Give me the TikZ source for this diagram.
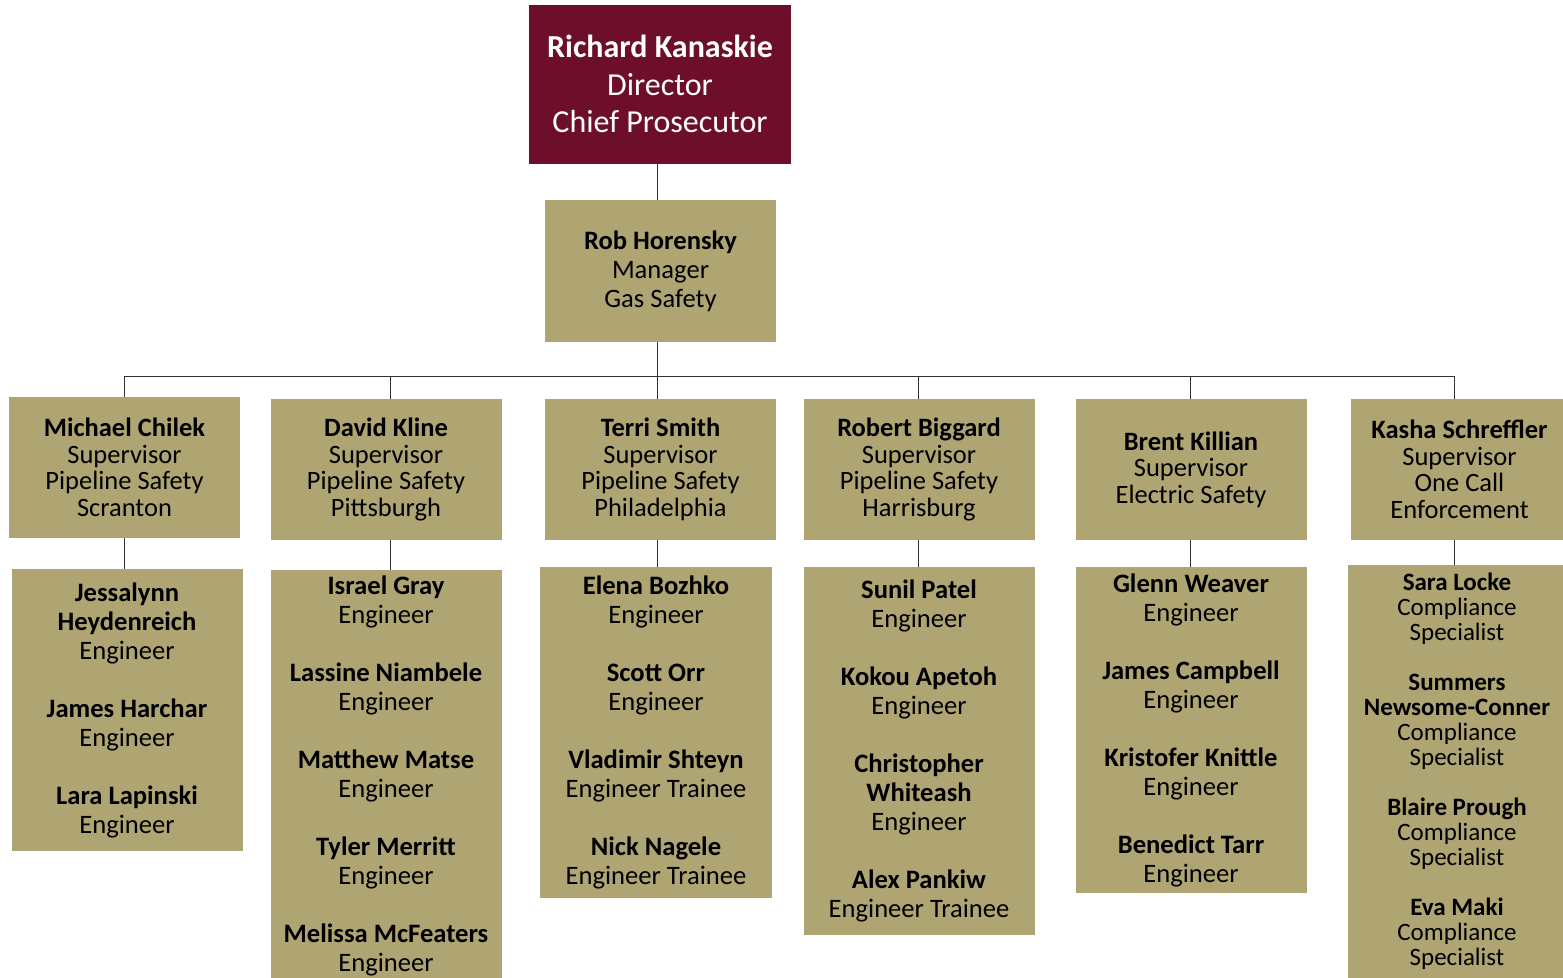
\documentclass[tikz,border=0pt]{standalone}
\usepackage{fontspec}
\setmainfont{Carlito}
\usepackage{tikz}

\definecolor{chiefred}{RGB}{109,15,43}
\definecolor{unittan}{RGB}{175,165,115}

\newcommand{\nm}[1]{\textbf{#1}}

\begin{document}
\begin{tikzpicture}[x=1pt, y=-1pt,
		every node/.style={align=center, inner sep=0pt},
		chief/.style={fill=chiefred, text=white, minimum width=262pt, minimum height=159pt, font=\fontsize{32}{37.5}\selectfont},
		unit/.style={fill=unittan, minimum width=231pt, font=\fontsize{26.6}{29}\selectfont},
		super/.style={unit, minimum height=141pt, font=\fontsize{26.5}{26.5}\selectfont},
		staff/.style={unit, font=\fontsize{26.6}{29}\selectfont},
		link/.style={draw=black!80, line width=1pt}]
		\useasboundingbox (0,0) rectangle (1563,977);
		\clip (0,0) rectangle (1563,977);
		% top of the chart
		\node[chief] (dir) at (660,84) {\nm{Richard Kanaskie}\\Director\\Chief Prosecutor};
		\node[unit, minimum height=142pt] (mgr) at (660.5,271) {\nm{Rob Horensky}\\Manager\\Gas Safety};
		% supervisors
		\node[super] (sup1) at (124.5,467.5) {\nm{Michael Chilek}\\Supervisor\\Pipeline Safety\\Scranton};
		\node[super] (sup2) at (386,469.5) {\nm{David Kline}\\Supervisor\\Pipeline Safety\\Pittsburgh};
		\node[super] (sup3) at (660.5,469.5) {\nm{Terri Smith}\\Supervisor\\Pipeline Safety\\Philadelphia};
		\node[super] (sup4) at (919,469.5) {\nm{Robert Biggard}\\Supervisor\\Pipeline Safety\\Harrisburg};
		\node[super] (sup5) at (1191,469.5) {\nm{Brent Killian}\\Supervisor\\Electric Safety};
		\node[super, minimum width=217pt] (sup6) at (1459.5,469.5) {\nm{Kasha Schreffler}\\Supervisor\\One Call\\Enforcement};
		% staff
		\node[staff, minimum height=282pt] (eng1) at (127,710) {\nm{Jessalynn}\\\nm{Heydenreich}\\Engineer\\[\baselineskip]
			\nm{James Harchar}\\Engineer\\[\baselineskip]
			\nm{Lara Lapinski}\\Engineer};
		\node[staff, minimum height=411pt] (eng2) at (386,775.5) {\nm{Israel Gray}\\Engineer\\[\baselineskip]
			\nm{Lassine Niambele}\\Engineer\\[\baselineskip]
			\nm{Matthew Matse}\\Engineer\\[\baselineskip]
			\nm{Tyler Merritt}\\Engineer\\[\baselineskip]
			\nm{Melissa McFeaters}\\Engineer};
		\node[staff, minimum width=232pt, minimum height=331pt] (eng3) at (656,732.5) {\nm{Elena Bozhko}\\Engineer\\[\baselineskip]
			\nm{Scott Orr}\\Engineer\\[\baselineskip]
			\nm{Vladimir Shteyn}\\Engineer Trainee\\[\baselineskip]
			\nm{Nick Nagele}\\Engineer Trainee};
		\node[staff, minimum height=368pt] (eng4) at (919,751) {\nm{Sunil Patel}\\Engineer\\[\baselineskip]
			\nm{Kokou Apetoh}\\Engineer\\[\baselineskip]
			\nm{Christopher}\\\nm{Whiteash}\\Engineer\\[\baselineskip]
			\nm{Alex Pankiw}\\Engineer Trainee};
		\node[staff, minimum height=326pt] (eng5) at (1191,730) {\nm{Glenn Weaver}\\Engineer\\[\baselineskip]
			\nm{James Campbell}\\Engineer\\[\baselineskip]
			\nm{Kristofer Knittle}\\Engineer\\[\baselineskip]
			\nm{Benedict Tarr}\\Engineer};
		\node[staff, minimum width=218pt, minimum height=413pt, font=\fontsize{25}{25}\selectfont] (eng6) at (1457,771.5) {\nm{Sara Locke}\\Compliance\\Specialist\\[\baselineskip]
			\nm{Summers}\\\nm{Newsome-Conner}\\Compliance\\Specialist\\[\baselineskip]
			\nm{Blaire Prough}\\Compliance\\Specialist\\[\baselineskip]
			\nm{Eva Maki}\\Compliance\\Specialist};
		% connectors
		\coordinate (bus) at (657,376);
		\draw[link] (dir.south -| bus) -- (mgr.north -| bus);
		\draw[link] (mgr.south -| bus) -- (bus);
		\foreach \k/\x in {1/124,2/390,3/657,4/918,5/1190,6/1454}
		{
			\coordinate (drop\k) at (\x,376);
			\draw[link] (drop\k) -- (drop\k |- sup\k.north);
			\draw[link] (drop\k |- sup\k.south) -- (drop\k |- eng\k.north);
		}
		\draw[link] (drop1) -- (drop6);
	\end{tikzpicture}
\end{document}
